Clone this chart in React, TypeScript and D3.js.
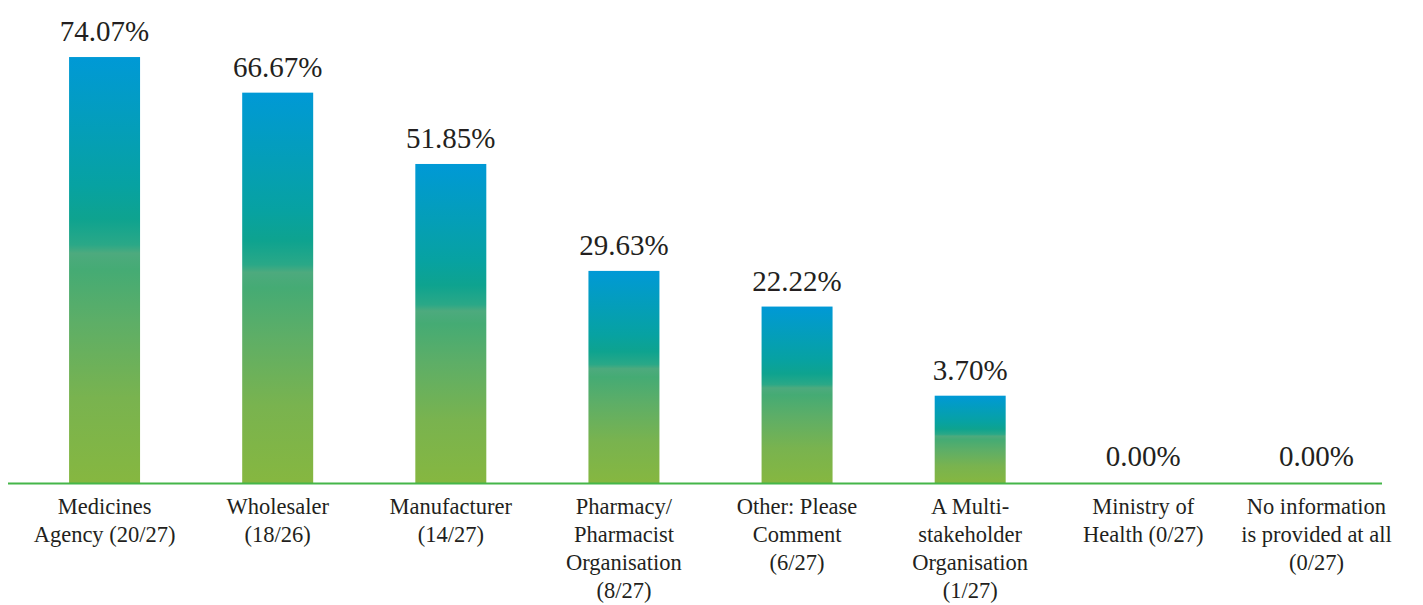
import React, { useEffect } from "react";
import * as d3 from "d3";

const categories: string[] = [
  "Medicines Agency (20/27)",
  "Wholesaler (18/26)",
  "Manufacturer (14/27)",
  "Pharmacy/Pharmacist Organisation (8/27)",
  "Other: Please Comment (6/27)",
  "A Multi-stakeholder Organisation (1/27)",
  "Ministry of Health (0/27)",
  "No information is provided at all (0/27)",
];

const categoryLines: string[][] = [
  ["Medicines", "Agency (20/27)"],
  ["Wholesaler", "(18/26)"],
  ["Manufacturer", "(14/27)"],
  ["Pharmacy/", "Pharmacist", "Organisation", "(8/27)"],
  ["Other: Please", "Comment", "(6/27)"],
  ["A Multi-", "stakeholder", "Organisation", "(1/27)"],
  ["Ministry of", "Health (0/27)"],
  ["No information", "is provided at all", "(0/27)"],
];

const values: number[] = [74.07, 66.67, 51.85, 29.63, 22.22, 3.7, 0, 0];

const W = 1423;
const H = 605;
const baseline = 483.5;
const font = "Liberation Serif, Tinos, Times New Roman, Noto Serif, serif";
const textColor = "#231f20";

const stops = [
  { o: 0, c: "#0099d6" },
  { o: 0.3, c: "#07a2a2" },
  { o: 0.38, c: "#0ea38f" },
  { o: 0.44, c: "#2aa887" },
  { o: 0.46, c: "#4daa7e" },
  { o: 0.5, c: "#45ab74" },
  { o: 0.62, c: "#5dae67" },
  { o: 0.8, c: "#79b34f" },
  { o: 1, c: "#86b740" },
];

export default function App() {
  useEffect(() => {
    document.body.style.margin = "0";
  }, []);

  const x = d3
    .scaleBand<string>()
    .domain(categories)
    .range([18, 1403])
    .paddingInner(0.59)
    .paddingOuter(0.295);

  // bars keep a minimum visible height for non-zero values
  const y = d3.scaleLinear().domain([0, 80]).range([baseline - 70, baseline - 455]);
  const barTop = (v: number) => (v > 0 ? y(v) : baseline);

  return (
    <svg
      width={W}
      height={H}
      style={{ position: "absolute", left: 0, top: 0, display: "block", background: "#fff", fontFamily: font }}
    >
      <defs>
        <linearGradient id="barGrad" x1="0" y1="0" x2="0" y2="1">
          {stops.map((s, i) => (
            <stop key={i} offset={s.o} stopColor={s.c} />
          ))}
        </linearGradient>
      </defs>
      {categories.map((c, i) => {
        const v = values[i];
        const top = barTop(v);
        const bx = x(c)!;
        const cx = bx + x.bandwidth() / 2;
        return (
          <g key={c}>
            {v > 0 && (
              <rect
                x={bx}
                y={top}
                width={x.bandwidth()}
                height={baseline - top}
                fill="url(#barGrad)"
              />
            )}
            <text
              x={cx}
              y={v > 0 ? top - 16 : baseline - 18}
              textAnchor="middle"
              fontSize={29}
              style={{ fontFamily: font }}
              fill={textColor}
            >
              {v.toFixed(2) + "%"}
            </text>
            <text
              x={cx}
              y={baseline + 30.5}
              textAnchor="middle"
              fontSize={22.5}
              style={{ fontFamily: font }}
              fill={textColor}
            >
              {categoryLines[i].map((l, j) => (
                <tspan key={j} x={cx} dy={j === 0 ? 0 : 28}>
                  {l}
                </tspan>
              ))}
            </text>
          </g>
        );
      })}
      <line x1={8} x2={1382} y1={baseline} y2={baseline} stroke="#45b649" strokeWidth={2} />
    </svg>
  );
}
